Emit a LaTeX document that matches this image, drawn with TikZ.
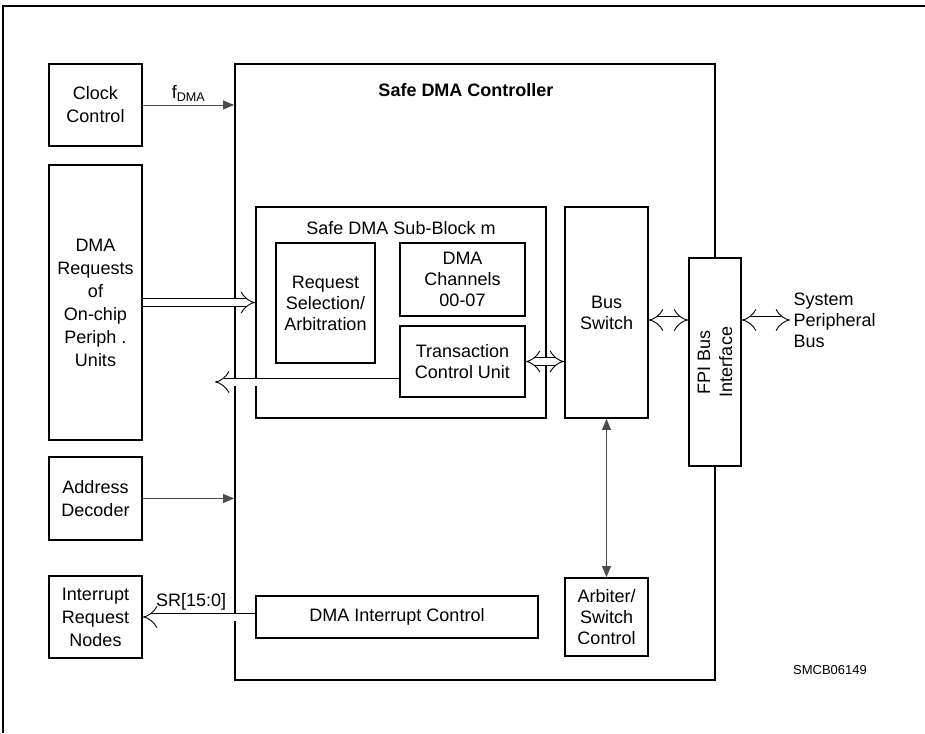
\documentclass[tikz,border=0pt]{standalone}
\usepackage{fontspec}
\setmainfont{Liberation Sans}
\usetikzlibrary{arrows.meta}

\begin{document}
\begin{tikzpicture}[x=1pt,y=-1pt,
  font=\fontsize{18}{21}\selectfont,
  blk/.style={draw,line width=1.8pt,align=center,inner sep=0pt},
  bus/.style={double,double distance=7pt,line width=0.9pt,-{Implies[length=8pt,width=19pt]}},
  bibus/.style={bus,{Implies[length=8pt,width=19pt]}-{Implies[length=8pt,width=19pt]}},
  sig/.style={draw=black!70,line width=0.9pt,-{Triangle[length=11pt,width=9pt]}}]
 \useasboundingbox (0,0) rectangle (925,733);
 \draw[line width=1.8pt] (3,733) -- (3,6) -- (925,6);
 % left column
 \foreach \n/\y/\h/\t in {clk/105/82/{Clock\\Control},
   req/302.5/275/{DMA\\Requests\\of\\On-chip\\Periph .\\Units},
   adr/498.5/83/{Address\\Decoder},irq/617/82/{Interrupt\\Request\\Nodes}}
   \node[blk,font=\fontsize{18}{23}\selectfont,minimum width=93pt,minimum height=\h pt] (\n) at (95.5,\y) {\t};
 % controller
 \node[blk,minimum width=480pt,minimum height=616pt] (ctrl) at (475,372) {};
 \node[font=\fontsize{18}{21}\selectfont\bfseries] (ttl) at (466,90) {Safe DMA Controller};
 \node[blk,minimum width=290pt,minimum height=211pt] (sub) at (401,312.5) {};
 \node (subttl) at (401,228) {Safe DMA Sub-Block m};
 \node[blk,minimum width=99pt,minimum height=120pt] (rsel) at (325.5,303) {Request\\Selection/\\Arbitration};
 \node[blk,minimum width=125pt,minimum height=73pt] (chan) at (462.5,279.5) {DMA\\Channels\\00-07};
 \node[blk,minimum width=125pt,minimum height=71pt] (tcu) at (462.5,361.5) {Transaction\\Control Unit};
 \node[blk,minimum width=83pt,minimum height=211pt] (bsw) at (606.5,312.5) {Bus\\Switch};
 \node[blk,fill=white,minimum width=52pt,minimum height=208pt] (fpi) at (715,362) {};
 \node[rotate=90,align=center,font=\fontsize{18}{22}\selectfont] (fpitxt) at (fpi) {FPI Bus\\Interface};
 \node[blk,minimum width=83pt,minimum height=78pt] (arb) at (606.5,617) {Arbiter/\\Switch\\Control};
 \node[blk,minimum width=282pt,minimum height=42pt] (dic) at (397,617) {DMA Interrupt Control};
 \node[anchor=west,align=left] (sys) at (790,320) {System\\Peripheral\\Bus};
 \node[font=\fontsize{13}{15}\selectfont] (code) at (830,670) {SMCB06149};
 \coordinate (tcuout) at (215,382);
 % connections
 \draw[sig] (clk.east) -- (clk.east -| ctrl.west) node[midway,above] {f\textsubscript{DMA}};
 \draw[sig] (adr.east) -- (adr.east -| ctrl.west);
 \draw[bus] (req.east) -- (req.east -| sub.west);
 \draw[bus] (tcuout -| tcu.west) -- (tcuout);
 \draw[bibus] (tcu.east) -- (tcu.east -| bsw.west);
 \draw[bibus] (bsw.east |- sys.west) -- (fpi.west |- sys.west);
 \draw[bibus] (fpi.east |- sys.west) -- (sys.west);
 \draw[sig,{Triangle[length=11pt,width=9pt]}-{Triangle[length=11pt,width=9pt]}] (bsw.south) -- (arb.north);
 \draw[bus] (dic.west) -- (irq.east) node[pos=0.57,above=3pt] {SR[15:0]};
\end{tikzpicture}
\end{document}
